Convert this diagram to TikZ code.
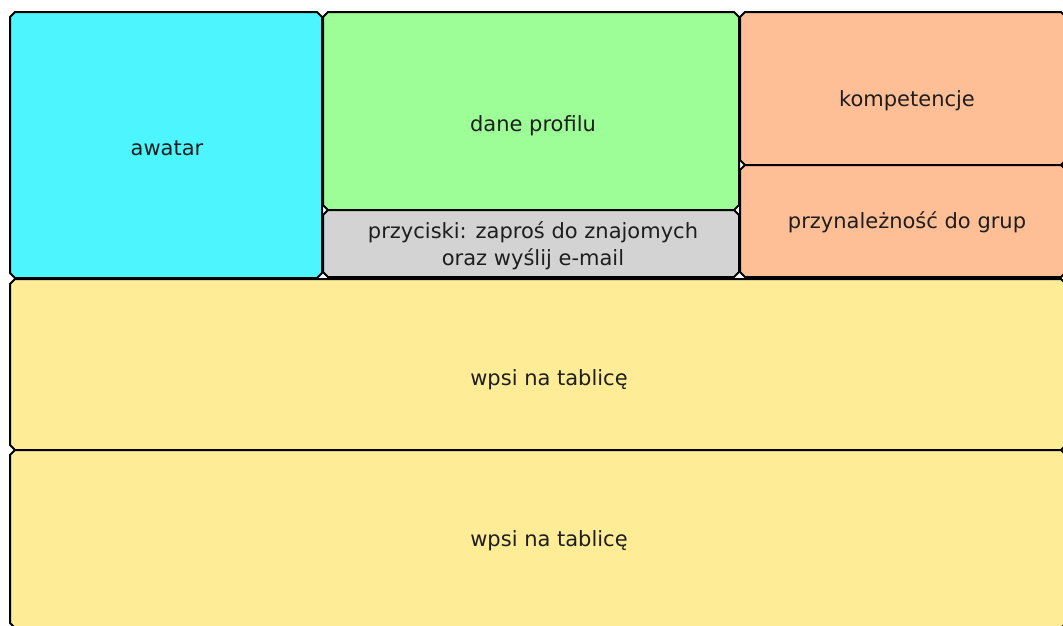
\documentclass[tikz,border=0pt]{standalone}
\usepackage{fontspec}
\setmainfont{DejaVu Sans}
\definecolor{cAva}{HTML}{4DF6FE}
\definecolor{cProf}{HTML}{9DFE98}
\definecolor{cBtn}{HTML}{D3D3D3}
\definecolor{cComp}{HTML}{FEBE96}
\definecolor{cWall}{HTML}{FEEC96}
\definecolor{cTxt}{HTML}{1E1E1E}
\tikzset{
  area/.style={rectangle, inner sep=0pt, outer sep=0pt},
  rim/.style={draw=black, line width=2pt, line join=round},
  lbl/.style={text=cTxt, font=\fontsize{21}{27}\selectfont, align=center, inner sep=0pt}
}
\newcommand\panelbox[2]{%
  \filldraw[rim, fill=#2]
    ([xshift=5pt]#1.north west) -- ([xshift=-5pt]#1.north east)
    -- ([yshift=-5pt]#1.north east) -- ([yshift=5pt]#1.south east)
    -- ([xshift=-5pt]#1.south east) -- ([xshift=5pt]#1.south west)
    -- ([yshift=5pt]#1.south west) -- ([yshift=-5pt]#1.north west) -- cycle;}
\begin{document}
\begin{tikzpicture}[x=1pt,y=-1pt]
\useasboundingbox (0,0) rectangle (1063,625);
\fill[white] (0,0) rectangle (1063,625);
% panel areas: centre, size
\node[area, minimum width=312pt, minimum height=266pt] (ava) at (166,145) {};
\node[area, minimum width=416pt, minimum height=198pt] (prof) at (531,111) {};
\node[area, minimum width=416pt, minimum height=67pt] (btn) at (531,243.5) {};
\node[area, minimum width=326pt, minimum height=153pt] (comp) at (903,88.5) {};
\node[area, minimum width=326pt, minimum height=112pt] (grp) at (903,221) {};
\node[area, minimum width=1056pt, minimum height=171pt] (wall1) at (538,364.5) {};
\node[area, minimum width=1056pt, minimum height=178pt] (wall2) at (538,539) {};
\panelbox{ava}{cAva}
\panelbox{prof}{cProf}
\panelbox{btn}{cBtn}
\panelbox{comp}{cComp}
\panelbox{grp}{cComp}
\panelbox{wall1}{cWall}
\panelbox{wall2}{cWall}
% labels
\node[lbl] (tava) at (167,148) {awatar};
\node[lbl] (tprof) at (533,126) {dane profilu};
\node[lbl] (tbtn) at (533,246) {przyciski: zaproś do znajomych\\oraz wyślij e-mail};
\node[lbl] (tcomp) at (907,101) {kompetencje};
\node[lbl] (tgrp) at (907,222) {przynależność do grup};
\node[lbl] (tw1) at (549,380) {wpsi na tablicę};
\node[lbl] (tw2) at (549,541) {wpsi na tablicę};
\end{tikzpicture}
\end{document}
